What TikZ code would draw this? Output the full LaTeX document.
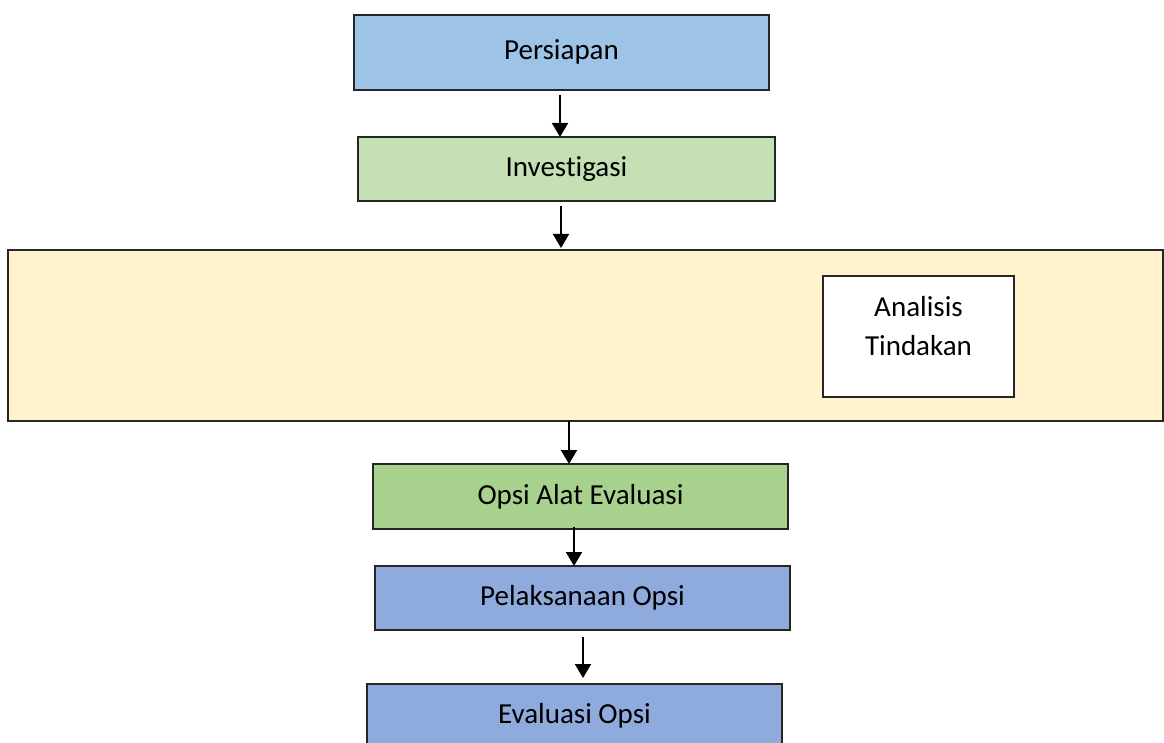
\documentclass[tikz,border=0pt]{standalone}
\usepackage{fontspec}
\setmainfont[Ligatures={NoCommon}]{Carlito}
\usetikzlibrary{arrows.meta}
\definecolor{cBlueA}{HTML}{9DC3E6}
\definecolor{cGreenA}{HTML}{C5E0B4}
\definecolor{cYellow}{HTML}{FFF2CC}
\definecolor{cGreenB}{HTML}{A9D18E}
\definecolor{cBlueB}{HTML}{8FAADC}
\begin{document}
\begin{tikzpicture}[x=1pt,y=-1pt,
  box/.style={draw=black!85,line width=2pt,inner sep=0pt,outer sep=0pt,font=\fontsize{29}{36}\selectfont},
  arr/.style={line width=2pt,-{Triangle[width=16pt,length=14pt]}}]
\useasboundingbox (0,0) rectangle (1164,743);
\clip (0,0) rectangle (1164,743);
\node[box,fill=cBlueA,minimum width=415pt,minimum height=75pt] (p) at (561.5,52.5) {\raisebox{5pt}{Persiapan}};
\node[box,fill=cGreenA,minimum width=417pt,minimum height=64pt] (i) at (566.5,169) {\raisebox{-1pt}{Investigasi}};
\node[box,fill=cYellow,minimum width=1155pt,minimum height=171pt] (big) at (585.5,335.5) {};
\node[box,fill=white,minimum width=191pt,minimum height=121pt] (an) at (918.5,336.5) {};
\node[font=\fontsize{29}{39}\selectfont,align=center,inner sep=0pt] (antxt) at ([yshift=10pt]an.center) {Analisis\\Tindakan};
\node[box,fill=cGreenB,minimum width=415pt,minimum height=65pt] (o) at (580.5,496.5) {Opsi Alat Evaluasi};
\node[box,fill=cBlueB,minimum width=415pt,minimum height=64pt] (pl) at (582.5,598) {Pelaksanaan Opsi};
\node[box,fill=cBlueB,minimum width=415pt,minimum height=64pt] (e) at (574.5,716) {Evaluasi Opsi};
\coordinate (s1) at ([xshift=-1.5pt,yshift=-5pt]p.south);
\coordinate (s2) at ([xshift=-5.5pt,yshift=-5pt]i.south);
\coordinate (s3) at ([xshift=-16.5pt]big.south);
\coordinate (s4) at ([xshift=-6.5pt,yshift=2pt]o.south);
\coordinate (s5) at ([xshift=0.5pt,yshift=-7pt]pl.south);
\coordinate (t1) at (s1 |- i.north);
\coordinate (t2) at (s2 |- big.north);
\coordinate (t3) at (s3 |- o.north);
\coordinate (t4) at (s4 |- pl.north);
\coordinate (t5) at (s5 |- e.north);
\draw[arr] (s1) -- (t1);
\draw[arr] (s2) -- ([yshift=2pt]t2);
\draw[arr] (s3) -- (t3);
\draw[arr] (s4) -- (t4);
\draw[arr] (s5) -- ([yshift=6pt]t5);
\end{tikzpicture}
\end{document}
